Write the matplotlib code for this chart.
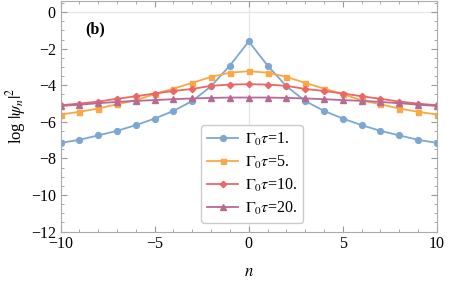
import numpy as np
import matplotlib
matplotlib.use('Agg')
import matplotlib.pyplot as plt
from matplotlib.ticker import MultipleLocator

plt.rcParams['font.family'] = 'Liberation Serif'
plt.rcParams['mathtext.fontset'] = 'stix'

n = np.arange(-10, 11)

# half profiles for n = 0..10 (curves are symmetric)
half1 = [-1.60, -2.92, -4.05, -4.86, -5.40, -5.82, -6.18, -6.49, -6.74, -6.98, -7.15]
half5 = [-3.23, -3.31, -3.54, -3.87, -4.18, -4.48, -4.82, -5.04, -5.27, -5.45, -5.60]
half10 = [-3.94, -3.96, -4.03, -4.20, -4.31, -4.45, -4.60, -4.74, -4.89, -5.00, -5.09]
half20 = [-4.67, -4.67, -4.69, -4.72, -4.76, -4.81, -4.85, -4.91, -4.98, -5.06, -5.13]

def full(h):
    return h[:0:-1] + h

series = [full(half1), full(half5), full(half10), full(half20)]
labels = [r'$\Gamma_0\tau$=1.', r'$\Gamma_0\tau$=5.', r'$\Gamma_0\tau$=10.', r'$\Gamma_0\tau$=20.']
colors = ['#7DA7D3', '#F9A846', '#EE6664', '#B86A92']
markers = ['o', 's', 'D', '^']
msizes = [4.2, 3.6, 3.2, 4.0]

fig = plt.figure(figsize=(4.49, 2.87), dpi=100)
ax = fig.add_axes([0.135, 0.193, 0.838, 0.803])

ax.axhline(0, color='#e6e6e6', lw=0.9, zorder=0)
ax.axvline(0, color='#e6e6e6', lw=0.9, zorder=0)

for y, lab, c, m, ms in zip(series, labels, colors, markers, msizes):
    ax.plot(n, y, color=c, marker=m, ms=ms, lw=1.3, label=lab)

ax.set_xlim(-10, 10)
ax.set_ylim(-12, 0.6)
ax.xaxis.set_major_locator(MultipleLocator(5))
ax.xaxis.set_minor_locator(MultipleLocator(1))
ax.yaxis.set_major_locator(MultipleLocator(2))
ax.yaxis.set_minor_locator(MultipleLocator(0.5))
ax.tick_params(which='both', direction='in', top=True, right=True, color='#999999', labelsize=11.5)
ax.tick_params(which='major', length=4)
ax.tick_params(which='minor', length=2.2)
for s in ax.spines.values():
    s.set_color('#aaaaaa')

ax.set_xlabel('$n$', fontsize=12, labelpad=8)
ax.set_ylabel(r'log $|\psi_n|^2$', fontsize=12, labelpad=2)
ax.text(0.065, 0.86, '(b)', transform=ax.transAxes, fontsize=11.5, fontweight='bold')

leg = ax.legend(loc='upper left', bbox_to_anchor=(0.373, 0.463), fontsize=11.5,
                handlelength=2.0, handletextpad=0.4, labelspacing=0.38,
                borderpad=0.35, borderaxespad=0, fancybox=True, framealpha=1,
                edgecolor='#cccccc')
leg.get_frame().set_linewidth(1.0)

fig.savefig('out.png', dpi=100)
